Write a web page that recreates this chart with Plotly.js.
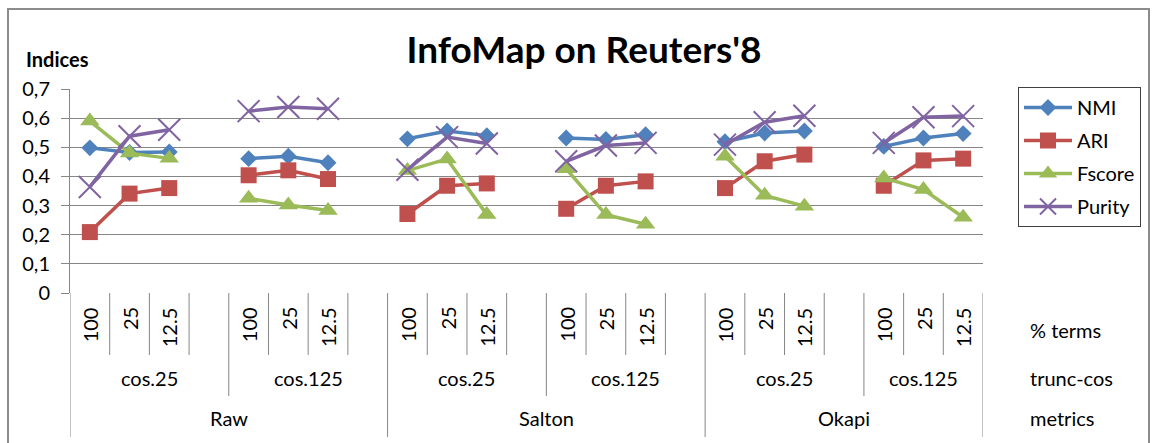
<!DOCTYPE html>
<html>
<head>
<meta charset="utf-8">
<script src="https://cdn.plot.ly/plotly-3.0.1.min.js"></script>
<style>
html,body{margin:0;padding:0;background:#fff;}
#chart{width:1152px;height:443px;}
</style>
</head>
<body>
<div id="chart"></div>
<script>
// ---- data ----
var metrics = ['Raw', 'Salton', 'Okapi'];
var truncCos = ['cos.25', 'cos.125'];
var terms = ['100', '25', '12.5'];
var levelNames = ['% terms', 'trunc-cos', 'metrics'];
var yTickVals = [0, 0.1, 0.2, 0.3, 0.4, 0.5, 0.6, 0.7];
var yTickText = ['0', '0,1', '0,2', '0,3', '0,4', '0,5', '0,6', '0,7'];

var seriesNames = ['NMI', 'ARI', 'Fscore', 'Purity'];
var NMI    = [0.498, 0.482, 0.484, 0.461, 0.469, 0.447, 0.529, 0.556, 0.540, 0.532, 0.527, 0.543, 0.519, 0.549, 0.556, 0.503, 0.532, 0.547];
var ARI    = [0.209, 0.341, 0.360, 0.404, 0.421, 0.391, 0.271, 0.368, 0.376, 0.289, 0.368, 0.383, 0.360, 0.452, 0.475, 0.368, 0.455, 0.461];
var Fscore = [0.590, 0.480, 0.462, 0.325, 0.302, 0.283, 0.420, 0.460, 0.269, 0.426, 0.269, 0.236, 0.469, 0.335, 0.298, 0.395, 0.355, 0.260];
var Purity = [0.364, 0.538, 0.560, 0.624, 0.638, 0.632, 0.423, 0.535, 0.513, 0.452, 0.506, 0.515, 0.509, 0.586, 0.608, 0.515, 0.603, 0.607];

// ---- build category slots (3 values + 1 blank slot between groups) ----
var slotX = [];
var groups = [];
var slot = 0;
for (var m = 0; m < metrics.length; m++) {
  for (var c = 0; c < truncCos.length; c++) {
    var start = slot;
    for (var t = 0; t < terms.length; t++) { slotX.push(slot); slot++; }
    groups.push({metric: m, cos: c, start: start, end: slot});
    if (!(m === metrics.length - 1 && c === truncCos.length - 1)) slot++;
  }
}
var nSlots = slot;

function withGaps(vals) {
  var xs = [], ys = [];
  for (var i = 0; i < vals.length; i++) {
    xs.push(slotX[i]); ys.push(vals[i]);
    if (i % 3 === 2 && i < vals.length - 1) { xs.push(slotX[i] + 1); ys.push(null); }
  }
  return {x: xs, y: ys};
}

var colors = ['#4F81BD', '#C0504D', '#9BBB59', '#8064A2'];
var allSeries = [NMI, ARI, Fscore, Purity];
var markers = [
  {symbol: 'diamond', size: 13},
  {symbol: 'square', size: 16},
  {symbol: 'triangle-up', size: 17},
  {symbol: 'x-thin', size: 22}
];
var traces = [];
for (var s = 0; s < allSeries.length; s++) {
  var d = withGaps(allSeries[s]);
  var mk = {symbol: markers[s].symbol, size: markers[s].size, color: colors[s]};
  if (markers[s].symbol === 'x-thin') { mk.line = {color: colors[s], width: 2}; }
  else { mk.line = {color: colors[s], width: 0}; }
  traces.push({
    type: 'scatter', mode: 'lines+markers', name: seriesNames[s],
    x: d.x, y: d.y, connectgaps: false, legendgroup: 'g' + s,
    line: {color: colors[s], width: 3.5},
    marker: mk, cliponaxis: false
  });
}

// ---- pixel helpers ----
var L = 70, R = 169, T = 89, B = 150, W = 1152, H = 443;
var PW = W - L - R, PH = H - T - B;
function py(px) { return (H - B - px) / PH; }
function pxX(px) { return (px - L) / PW; }

var gridCol = '#868686';
var font = 'Lato, "Open Sans", sans-serif';
var fs = 20;
var shapes = [], annotations = [];

// category separators
var yLvl1 = py(355), yLvl2 = py(396), yLvl3 = py(437);
for (var k = 0; k <= nSlots; k++) {
  var xb = k - 0.5;
  var bottom = yLvl1;
  if (k === 0 || k === nSlots) bottom = yLvl3;
  groups.forEach(function (g, gi) {
    if (g.start === k && gi > 0) {
      bottom = (g.cos === 0) ? yLvl3 : yLvl2;
    }
  });
  shapes.push({type: 'line', xref: 'x', yref: 'paper', x0: xb, x1: xb, y0: 0, y1: bottom,
               line: {color: gridCol, width: 1}});
}
// level-1 labels
for (var i = 0; i < slotX.length; i++) {
  annotations.push({xref: 'x', yref: 'paper', x: slotX[i], y: py(305), yanchor: 'top', xanchor: 'center',
    text: terms[i % 3], textangle: -90, showarrow: false, font: {family: font, size: fs, color: '#000'}});
}
// level-2 labels
groups.forEach(function (g, gi) {
  var endB = (gi < groups.length - 1) ? g.end + 1 : g.end;
  annotations.push({xref: 'x', yref: 'paper', x: (g.start - 0.5 + endB - 0.5) / 2, y: py(378),
    yanchor: 'middle', xanchor: 'center', text: truncCos[g.cos], showarrow: false,
    font: {family: font, size: fs, color: '#000'}});
});
// level-3 labels
for (var m2 = 0; m2 < metrics.length; m2++) {
  var gs = groups.filter(function (g) { return g.metric === m2; });
  var a = gs[0].start - 0.5;
  var last = gs[gs.length - 1];
  var b = (m2 < metrics.length - 1) ? last.end + 0.5 : last.end - 0.5;
  annotations.push({xref: 'x', yref: 'paper', x: (a + b) / 2, y: py(418), yanchor: 'middle', xanchor: 'center',
    text: metrics[m2], showarrow: false, font: {family: font, size: fs, color: '#000'}});
}
// level names on the right
var lvlY = [330, 378, 418];
for (var j = 0; j < levelNames.length; j++) {
  annotations.push({xref: 'paper', yref: 'paper', x: pxX(1028), y: py(lvlY[j]), xanchor: 'left', yanchor: 'middle',
    text: levelNames[j], showarrow: false, font: {family: font, size: fs, color: '#000'}});
}
// y axis title "Indices"
annotations.push({xref: 'paper', yref: 'paper', x: pxX(24), y: py(59), xanchor: 'left', yanchor: 'middle',
  text: '<b>Indices</b>', showarrow: false, font: {family: font, size: 20, color: '#000'}});

// outer chart border
shapes.push({type: 'rect', xref: 'paper', yref: 'paper', x0: pxX(8), x1: pxX(1149), y0: py(9), y1: py(446),
  line: {color: '#8c8c8c', width: 2}, fillcolor: 'rgba(0,0,0,0)'});

var layout = {
  width: W, height: H,
  margin: {l: L, r: R, t: T, b: B, autoexpand: false},
  paper_bgcolor: '#fff', plot_bgcolor: '#fff',
  title: {text: "<b>InfoMap on Reuters'8</b>", x: 584 / W, xanchor: 'center', y: 1 - 50 / H, yanchor: 'middle',
          font: {family: font, size: 37, color: '#000'}},
  xaxis: {range: [-0.5, nSlots - 0.5], showgrid: false, zeroline: false, showticklabels: false,
          showline: false, ticks: '', fixedrange: true},
  yaxis: {range: [0, 0.7], tickvals: yTickVals, ticktext: yTickText, showgrid: true, gridcolor: gridCol,
          gridwidth: 1, zeroline: false, showline: true, linecolor: gridCol, linewidth: 1,
          ticks: 'outside', ticklen: 8, tickcolor: gridCol, tickfont: {family: font, size: fs, color: '#000'},
          ticklabelstandoff: 7, fixedrange: true},
  legend: {x: pxX(1018), y: py(87), xanchor: 'left', yanchor: 'top', bordercolor: '#404040', borderwidth: 1,
           bgcolor: '#fff', font: {family: font, size: fs, color: '#000'}, traceorder: 'grouped',
           tracegroupgap: 4, itemwidth: 48},
  shapes: shapes, annotations: annotations, showlegend: true
};
Plotly.newPlot('chart', traces, layout, {displayModeBar: false, staticPlot: true});
</script>
</body>
</html>
